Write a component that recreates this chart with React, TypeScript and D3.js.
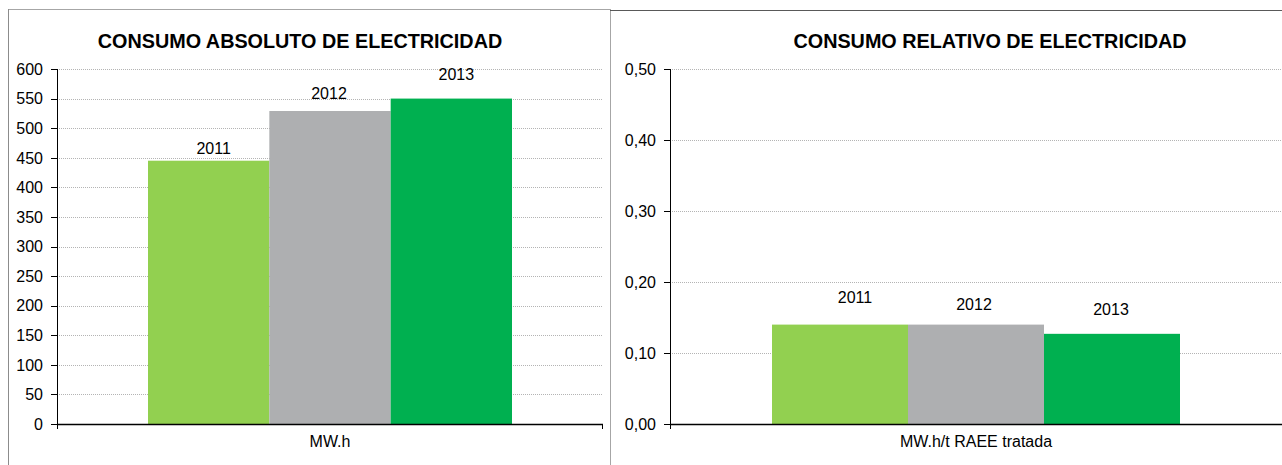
import React from "react";
import * as d3 from "d3";

const years = ["2011", "2012", "2013"];
const colors = ["#92D050", "#AEAFB1", "#00B050"];

const absCategory = ["MW.h"];
const absValues = [445, 529, 550];
const absTicks = [0, 50, 100, 150, 200, 250, 300, 350, 400, 450, 500, 550, 600];

const relCategory = ["MW.h/t RAEE tratada"];
const relValues = [0.14, 0.14, 0.127];
const relTicks = [0, 0.1, 0.2, 0.3, 0.4, 0.5];

const FONT = "'Liberation Sans', Arial, sans-serif";

type PanelProps = {
  title: string;
  category: string[];
  values: number[];
  ticks: number[];
  max: number;
  fmt: (v: number) => string;
  x0: number;
  x1: number;
  titleX: number;
  labelDx: number[];
  labelDy: number[];
  endTick: boolean;
};

function Panel(p: PanelProps) {
  const top = 69;
  const bottom = 424;
  const y = d3.scaleLinear().domain([0, p.max]).range([bottom, top]);
  const xCat = d3.scaleBand().domain(p.category).range([p.x0, p.x1]).paddingInner(0).paddingOuter(0.25);
  const xSeries = d3.scaleBand().domain(years).range([0, xCat.bandwidth()]).padding(0);
  const cat = p.category[0];
  const bx = xCat(cat) as number;
  return (
    <g>
      <text x={p.titleX} y={48} textAnchor="middle" fontFamily={FONT} fontWeight="bold" fontSize={19.8} fill="#000">
        {p.title}
      </text>
      {p.ticks.map((t) => (
        <g key={t}>
          {t > 0 && (
            <line x1={p.x0} x2={p.x1} y1={Math.round(y(t)) + 0.5} y2={Math.round(y(t)) + 0.5} stroke="#b4b4b4" strokeWidth={1} strokeDasharray="1,1" />
          )}
          <line x1={p.x0 - 6} x2={p.x0} y1={Math.round(y(t)) + 0.5} y2={Math.round(y(t)) + 0.5} stroke="#000" strokeWidth={1} />
          <text x={p.x0 - 14} y={y(t)} dy="0.36em" textAnchor="end" fontFamily={FONT} fontSize={16} fill="#000">
            {p.fmt(t)}
          </text>
        </g>
      ))}
      {years.map((yr, i) => {
        const xx = bx + (xSeries(yr) as number);
        const w = xSeries.bandwidth();
        return (
          <g key={yr}>
            <rect x={xx} y={y(p.values[i])} width={w} height={bottom - y(p.values[i])} fill={colors[i]} />
            <text x={xx + w / 2 + p.labelDx[i]} y={y(p.values[i]) - p.labelDy[i]} dy="0.36em" textAnchor="middle" fontFamily={FONT} fontSize={16} fill="#000">
              {yr}
            </text>
          </g>
        );
      })}
      <line x1={p.x0 + 0.5} x2={p.x0 + 0.5} y1={top} y2={bottom} stroke="#000" strokeWidth={1} />
      <line x1={p.x0} x2={p.x1} y1={bottom + 0.5} y2={bottom + 0.5} stroke="#000" strokeWidth={1.5} />
      <line x1={p.x0 + 0.5} x2={p.x0 + 0.5} y1={bottom} y2={bottom + 5} stroke="#000" strokeWidth={1} />
      {p.endTick && <line x1={p.x1 - 0.5} x2={p.x1 - 0.5} y1={bottom} y2={bottom + 5} stroke="#000" strokeWidth={1} />}
      <text x={bx + xCat.bandwidth() / 2} y={441} dy="0.36em" textAnchor="middle" fontFamily={FONT} fontSize={16} fill="#000">
        {cat}
      </text>
    </g>
  );
}

export default function App() {
  return (
    <svg width={1282} height={465} style={{ position: "absolute", left: 0, top: 0, background: "#fff" }}>
      <rect x={0} y={0} width={1282} height={465} fill="#fff" />
      <line x1={8} x2={610} y1={9.5} y2={9.5} stroke="#a6a6a6" strokeWidth={1} />
      <line x1={8.5} x2={8.5} y1={9} y2={465} stroke="#8c8c8c" strokeWidth={1} />
      <line x1={610.5} x2={610.5} y1={9} y2={465} stroke="#a6a6a6" strokeWidth={1} />
      <line x1={610} x2={1282} y1={10.5} y2={10.5} stroke="#595959" strokeWidth={1} />
      <Panel
        title="CONSUMO ABSOLUTO DE ELECTRICIDAD"
        category={absCategory}
        values={absValues}
        ticks={absTicks}
        max={600}
        fmt={(v) => String(v)}
        x0={57}
        x1={603}
        titleX={300}
        labelDx={[5, -1, 5]}
        labelDy={[12.5, 18, 24]}
        endTick={true}
      />
      <Panel
        title="CONSUMO RELATIVO DE ELECTRICIDAD"
        category={relCategory}
        values={relValues}
        ticks={relTicks}
        max={0.5}
        fmt={(v) => d3.format(".2f")(v).replace(".", ",")}
        x0={670}
        x1={1282}
        titleX={990}
        labelDx={[15, -2, -1]}
        labelDy={[27, 20, 25]}
        endTick={false}
      />
    </svg>
  );
}
